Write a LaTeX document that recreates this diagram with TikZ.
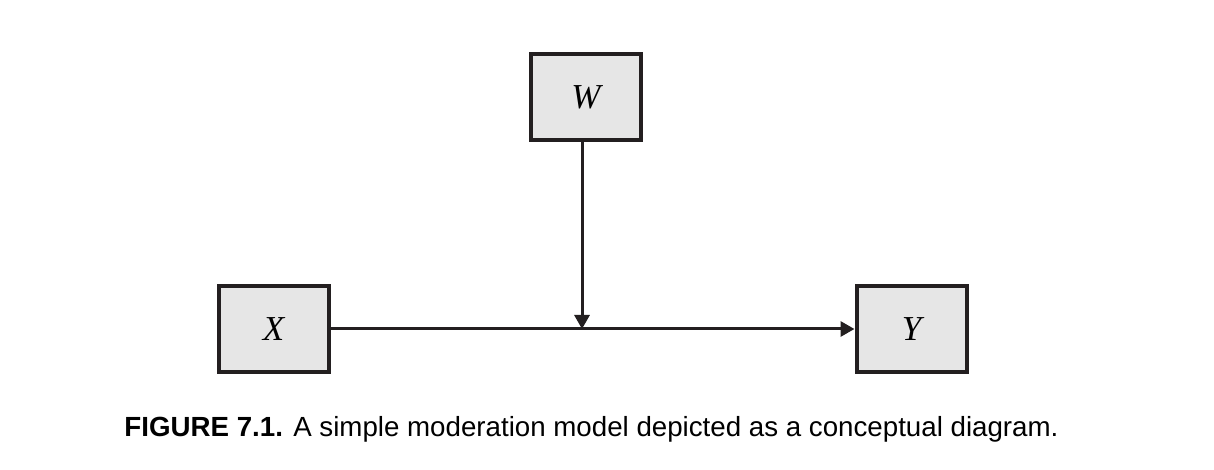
\documentclass[tikz,border=0pt]{standalone}
\usepackage{fontspec}
\setmainfont{Liberation Serif}
\setsansfont{Liberation Sans}
\usetikzlibrary{arrows.meta}
\definecolor{boxfill}{HTML}{E6E6E6}
\definecolor{ink}{HTML}{231F20}
\begin{document}
\begin{tikzpicture}[x=1pt,y=1pt,
  varbox/.style={draw=ink,line width=4pt,fill=boxfill,minimum width=110pt,minimum height=86pt,inner sep=0pt,font=\fontsize{35}{37}\selectfont\itshape},
  conn/.style={draw=ink,line width=3pt,-{Triangle[length=14pt,width=15pt]}}]
\useasboundingbox (0,0) rectangle (1214,470);
\node[varbox] (W) at (586,372.5) {W};
\node[varbox] (X) at (273.5,141) {X};
\node[varbox] (Y) at (911.5,141) {Y};
\coordinate (M) at (582,141);
\draw[conn] (X.east) -- (Y.west);
\draw[conn] (W.south -| M) -- (M);
\node[font=\sffamily\fontsize{27.7}{30}\selectfont] (cap) at (591.5,41) {\textbf{FIGURE 7.1.} A simple moderation model depicted as a conceptual diagram.};
\end{tikzpicture}
\end{document}
